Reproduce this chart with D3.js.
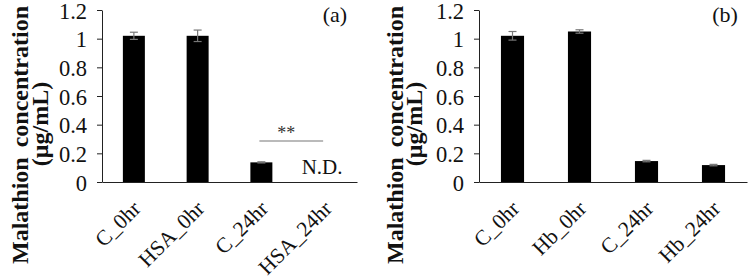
<!DOCTYPE html>
<html>
<head>
<meta charset="utf-8">
<script src="https://cdn.jsdelivr.net/npm/d3@7"></script>
<style>
  body { margin: 0; background: #fff; }
  svg { display: block; }
  text { font-family: "Liberation Serif", "Times New Roman", serif; }
</style>
</head>
<body>
<div id="chart"></div>
<script>
// panel (a)
const catsA = ["C_0hr", "HSA_0hr", "C_24hr", "HSA_24hr"];
const valsA = [1.02, 1.02, 0.137, null];   // last one not detected
const errA = [0.025, 0.04, 0.004, null];

// panel (b)
const catsB = ["C_0hr", "Hb_0hr", "C_24hr", "Hb_24hr"];
const valsB = [1.02, 1.05, 0.146, 0.118];
const errB = [0.03, 0.012, 0.005, 0.005];

const yTicks = [0, 0.2, 0.4, 0.6, 0.8, 1, 1.2];
const yTitle = ["Malathion concentration", "(\u03bcg/mL)"];

const W = 749, H = 278;

const svg = d3.select("#chart").append("svg")
  .attr("width", W)
  .attr("height", H);

function drawPanel(o) {
  let x = d3.scaleBand()
    .domain(o.cats)
    .range([o.left, o.right])
    .paddingInner(0.655)
    .paddingOuter(0.3275);

  let y = d3.scaleLinear()
    .domain([0, 1.2])
    .range([182, 10]);

  let g = svg.append("g");

  // y axis
  let yAxis = g.append("g")
    .attr("transform", "translate(" + o.left + ",0)")
    .call(d3.axisLeft(y)
      .tickValues(yTicks)
      .tickSize(5)
      .tickSizeOuter(0)
      .tickPadding(10)
      .tickFormat(d => String(+d.toFixed(1))));
  yAxis.select(".domain").attr("stroke", "#222");
  yAxis.selectAll(".tick line").attr("stroke", "#222");
  yAxis.selectAll("text")
    .attr("dy", "0.36em")
    .attr("font-size", 22.5)
    .attr("fill", "#111");

  // bars
  let data = o.cats.map((c, i) => ({cat: c, v: o.vals[i], e: o.errs[i]}))
    .filter(d => d.v != null);

  g.selectAll("rect.bar")
    .data(data)
    .enter()
    .append("rect")
    .attr("class", "bar")
    .attr("x", d => x(d.cat))
    .attr("width", x.bandwidth())
    .attr("y", d => y(d.v))
    .attr("height", d => y(0) - y(d.v))
    .attr("fill", "#000");

  // error bars
  let eb = g.selectAll("g.err")
    .data(data)
    .enter()
    .append("g")
    .attr("class", "err")
    .attr("stroke", "#777")
    .attr("stroke-width", 1.2);
  eb.append("line")
    .attr("x1", d => x(d.cat) + x.bandwidth() / 2)
    .attr("x2", d => x(d.cat) + x.bandwidth() / 2)
    .attr("y1", d => y(d.v + d.e))
    .attr("y2", d => y(d.v - d.e));
  eb.selectAll("line.cap")
    .data(d => [d.v + d.e, d.v - d.e].map(v => ({cat: d.cat, v: v})))
    .enter()
    .append("line")
    .attr("class", "cap")
    .attr("x1", d => x(d.cat) + x.bandwidth() / 2 - 4)
    .attr("x2", d => x(d.cat) + x.bandwidth() / 2 + 4)
    .attr("y1", d => y(d.v))
    .attr("y2", d => y(d.v));

  // x axis
  let xAxis = g.append("g")
    .attr("transform", "translate(0," + y(0) + ")")
    .call(d3.axisBottom(x).tickSize(0).tickSizeOuter(0));
  xAxis.select(".domain").attr("stroke", "#222");
  xAxis.selectAll("text")
    .attr("x", 0)
    .attr("y", 0)
    .attr("dy", 0)
    .attr("text-anchor", "end")
    .attr("transform", "translate(8,28) rotate(-45)")
    .attr("font-size", 21.5)
    .attr("fill", "#111");

  // y title, two lines
  g.append("text")
    .attr("transform", "translate(" + o.titleX[0] + ",135) rotate(-90)")
    .attr("dy", "0.35em")
    .attr("text-anchor", "middle")
    .attr("font-size", 24)
    .attr("font-weight", "bold")
    .attr("word-spacing", 4)
    .attr("fill", "#111")
    .text(yTitle[0]);
  g.append("text")
    .attr("transform", "translate(" + o.titleX[1] + ",124) rotate(-90)")
    .attr("dy", "0.35em")
    .attr("text-anchor", "middle")
    .attr("font-size", 24)
    .attr("font-weight", "bold")
    .attr("fill", "#111")
    .text(yTitle[1]);

  // panel tag
  g.append("text")
    .attr("x", o.tagX)
    .attr("y", 22)
    .attr("text-anchor", "middle")
    .attr("font-size", 22)
    .attr("fill", "#111")
    .text(o.tag);

  return {g: g, x: x, y: y};
}

let pa = drawPanel({cats: catsA, vals: valsA, errs: errA, left: 102, right: 357,
  titleX: [20, 40], tag: "(a)", tagX: 335});
let pb = drawPanel({cats: catsB, vals: valsB, errs: errB, left: 479, right: 747,
  titleX: [395, 414], tag: "(b)", tagX: 725});

// significance mark and N.D. in panel (a)
let cx3 = pa.x("C_24hr") + pa.x.bandwidth() / 2;
let cx4 = pa.x("HSA_24hr") + pa.x.bandwidth() / 2;
pa.g.append("line")
  .attr("x1", cx3 - 2)
  .attr("x2", cx4 - 2)
  .attr("y1", 141)
  .attr("y2", 141)
  .attr("stroke", "#777")
  .attr("stroke-width", 1.2);
pa.g.append("text")
  .attr("x", (cx3 + cx4) / 2 - 7)
  .attr("y", 139)
  .attr("text-anchor", "middle")
  .attr("font-size", 18)
  .attr("fill", "#333")
  .text("**");
pa.g.append("text")
  .attr("x", cx4 - 3)
  .attr("y", 174)
  .attr("text-anchor", "middle")
  .attr("font-size", 21)
  .attr("fill", "#111")
  .text("N.D.");
</script>
</body>
</html>
